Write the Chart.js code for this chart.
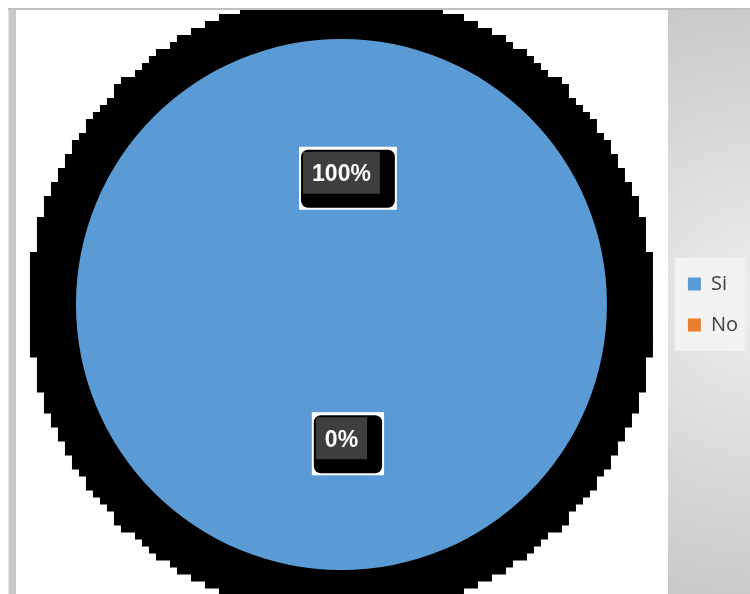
<!DOCTYPE html>
<html>
<head>
<meta charset="utf-8">
<script src="https://cdn.jsdelivr.net/npm/chart.js@4/dist/chart.umd.min.js"></script>
<style>
  html, body { margin: 0; padding: 0; background: #fff; }
  #wrap { width: 750px; height: 594px; position: relative; }
</style>
</head>
<body>
<div id="wrap"><canvas id="chart"></canvas></div>
<script>
const categories = ['Si', 'No'];
const values = [100, 0];
const valueLabels = ['100%', '0%'];
const colors = ['#5b9bd5', '#ed7d31'];

// page frame: top rule, left strip, right gray panel, legend box
const framePlugin = {
  id: 'frame',
  beforeDraw(chart) {
    const ctx = chart.ctx;
    const w = chart.width, h = chart.height;
    ctx.save();
    ctx.fillStyle = '#fff';
    ctx.fillRect(0, 0, w, h);
    ctx.fillStyle = '#c9c9c9';
    ctx.fillRect(8, 9, 8, h - 9);
    ctx.fillStyle = '#e2e2e2';
    ctx.fillRect(8, 9, 1, h - 9);
    let g = ctx.createRadialGradient(760, 300, 10, 760, 300, 330);
    g.addColorStop(0, '#ededed');
    g.addColorStop(1, '#c6c6c6');
    ctx.fillStyle = g;
    ctx.fillRect(668, 9, w - 668, h - 9);
    ctx.fillStyle = '#c0c0c0';
    ctx.fillRect(8, 8, w - 8, 2);

    const boxes = chart.legend.legendHitBoxes;
    if (boxes && boxes.length) {
      const x0 = Math.min(...boxes.map(b => b.left)) - 13;
      const y0 = Math.min(...boxes.map(b => b.top)) - 16;
      const y1 = Math.max(...boxes.map(b => b.top + b.height)) + 16;
      ctx.fillStyle = '#f2f2f2';
      ctx.fillRect(x0, y0, 70, y1 - y0);
    }
    ctx.restore();
  }
};

// stepped black ring behind the pie
const ringPlugin = {
  id: 'ring',
  beforeDatasetsDraw(chart) {
    const arc = chart.getDatasetMeta(0).data[0];
    if (!arc) return;
    const ctx = chart.ctx;
    const cx = arc.x, cy = arc.y;
    const R = arc.outerRadius + 44;
    const s = 7;
    ctx.save();
    ctx.beginPath();
    ctx.rect(16, 10, 652, chart.height - 10);
    ctx.clip();
    ctx.fillStyle = '#000';
    const n = Math.ceil(R / s) + 1;
    for (let j = -n; j <= n; j++) {
      const yc = j * s;
      if (Math.abs(yc) > R) continue;
      const half = Math.sqrt(R * R - yc * yc);
      const k = Math.round(half / s);
      ctx.fillRect(cx - k * s - s / 2, cy + yc - s / 2, (2 * k + 1) * s, s + 0.5);
    }
    ctx.restore();
  }
};

// value labels in dark boxes
const labelPlugin = {
  id: 'valueLabels',
  afterDatasetsDraw(chart) {
    const ctx = chart.ctx;
    const meta = chart.getDatasetMeta(0);
    ctx.save();
    ctx.font = 'bold 23px "Liberation Sans", Arial, sans-serif';
    ctx.textAlign = 'center';
    ctx.textBaseline = 'middle';
    meta.data.forEach((arc, i) => {
      const p = arc.tooltipPosition();
      const x = p.x, y = p.y + 3;
      const text = valueLabels[i];
      const tw = ctx.measureText(text).width;
      const gw = tw + 18, gh = 42;
      const gx = x - gw / 2, gy = y - 23;
      ctx.fillStyle = '#fff';
      ctx.fillRect(gx - 4, gy - 5, gw + 21, gh + 21);
      ctx.fillStyle = '#000';
      ctx.beginPath();
      ctx.roundRect(gx - 2, gy - 2, gw + 17, gh + 16, 7);
      ctx.fill();
      ctx.fillStyle = '#3e3e3e';
      ctx.fillRect(gx, gy, gw, gh);
      ctx.fillStyle = '#fff';
      ctx.fillText(text, x, y);
    });
    ctx.restore();
  }
};

new Chart(document.getElementById('chart'), {
  type: 'pie',
  data: {
    labels: categories,
    datasets: [{
      data: values,
      backgroundColor: colors,
      borderWidth: 0
    }]
  },
  options: {
    responsive: true,
    maintainAspectRatio: false,
    animation: false,
    rotation: 180,
    layout: { padding: { top: 39, bottom: 24, left: 16, right: 2 } },
    plugins: {
      legend: {
        position: 'right',
        labels: {
          boxWidth: 13,
          boxHeight: 13,
          padding: 21,
          color: '#404040',
          font: { size: 20, family: '"Open Sans", "Liberation Sans", sans-serif' }
        }
      },
      tooltip: { enabled: false }
    }
  },
  plugins: [framePlugin, ringPlugin, labelPlugin]
});
</script>
</body>
</html>
